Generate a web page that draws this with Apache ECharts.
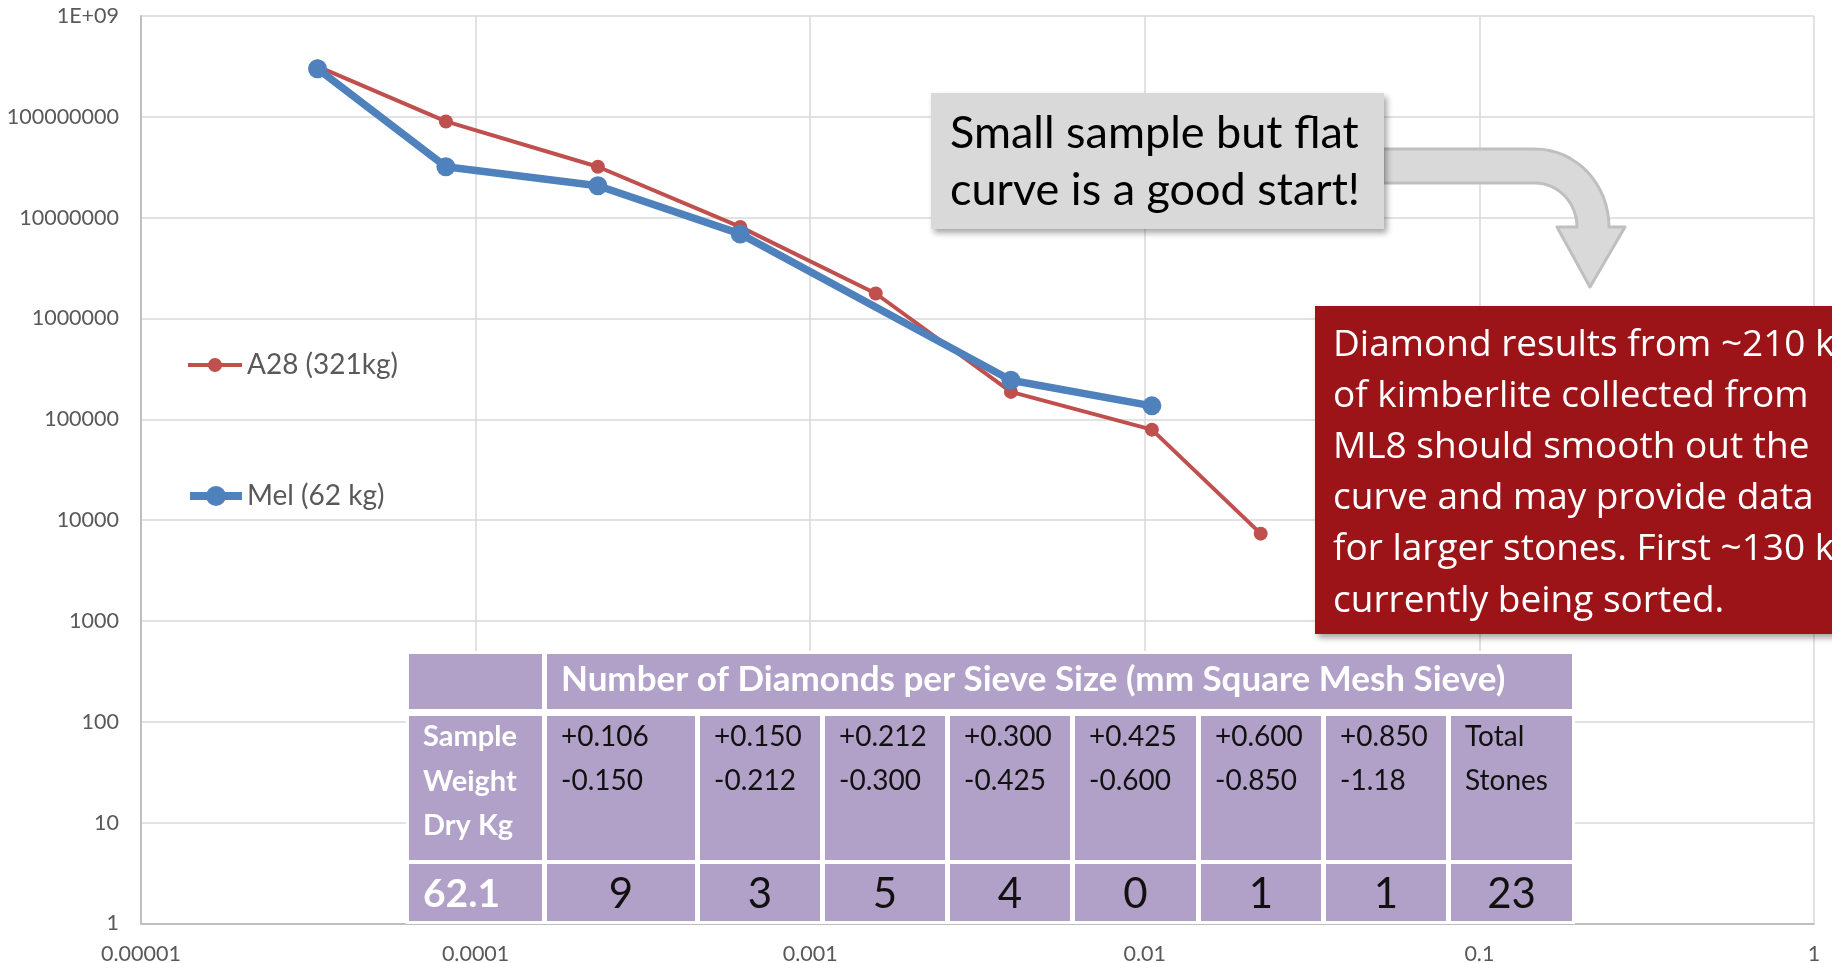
<!DOCTYPE html>
<html>
<head>
<meta charset="utf-8">
<title>Diamond size distribution</title>
<script src="https://cdn.jsdelivr.net/npm/echarts@6/dist/echarts.min.js"></script>
<style>body{margin:0;background:#fff;}</style>
</head>
<body>
<div id="main" style="width:1832px;height:963px;"></div>
<script type="text/javascript">
// values (log-log plot)
var a28X = [3.37e-5, 8.15e-5, 2.32e-4, 6.18e-4, 1.57e-3, 3.98e-3, 1.05e-2, 2.22e-2];
var a28Y = [3.16e8, 9.0e7, 3.2e7, 8.1e6, 1.77e6, 1.87e5, 7.9e4, 7.35e3];
var melX = [3.37e-5, 8.15e-5, 2.32e-4, 6.18e-4, 3.98e-3, 1.05e-2];
var melY = [3.0e8, 3.2e7, 2.07e7, 6.9e6, 2.44e5, 1.36e5];

var xTickLabels = ['0.00001', '0.0001', '0.001', '0.01', '0.1', '1'];
var yTickLabels = ['1', '10', '100', '1000', '10000', '100000', '1000000', '10000000', '100000000', '1E+09'];

// sieve table
var sieveTop = ['+0.106', '+0.150', '+0.212', '+0.300', '+0.425', '+0.600', '+0.850'];
var sieveBottom = ['-0.150', '-0.212', '-0.300', '-0.425', '-0.600', '-0.850', '-1.18'];
var sieveCounts = [9, 3, 5, 4, 0, 1, 1];
var totalStones = 23;
var sampleWeight = '62.1';

var noteText = ['Small sample but flat', 'curve is a good start!'];
var boxText = ['Diamond results from ~210 kg', 'of kimberlite collected from', 'ML8 should smooth out the',
    'curve and may provide data', 'for larger stones. First ~130 kg', 'currently being sorted.'];

function pairs(xs, ys) {
    var out = [];
    for (var i = 0; i < xs.length; i++) out.push([xs[i], ys[i]]);
    return out;
}

// points of a quarter ellipse, used for the bent arrow
function arc(cx, cy, rx, ry, a0, a1, n) {
    var pts = [];
    for (var i = 0; i <= n; i++) {
        var a = (a0 + (a1 - a0) * i / n) * Math.PI / 180;
        pts.push([cx + rx * Math.cos(a), cy + ry * Math.sin(a)]);
    }
    return pts;
}

var myChart = echarts.init(document.getElementById('main'));
var FONT = 'Lato, "Noto Sans", sans-serif';

// table graphic
var purple = '#B1A0C7';
var colEdges = [[409, 542], [547, 695], [700, 820], [825, 945], [950, 1070], [1075, 1196], [1201, 1321], [1326, 1446], [1451, 1572]];
var rowEdges = [[654, 709], [716, 860], [864, 921]];
var g = [];
g.push({type: 'rect', z: 50, shape: {x: 406, y: 651, width: 1169, height: 273}, style: {fill: '#fff'}});
g.push({type: 'rect', z: 51, shape: {x: colEdges[0][0], y: rowEdges[0][0], width: colEdges[0][1] - colEdges[0][0], height: rowEdges[0][1] - rowEdges[0][0]}, style: {fill: purple}});
g.push({type: 'rect', z: 51, shape: {x: colEdges[1][0], y: rowEdges[0][0], width: colEdges[8][1] - colEdges[1][0], height: rowEdges[0][1] - rowEdges[0][0]}, style: {fill: purple}});
g.push({type: 'text', z: 52, style: {text: 'Number of Diamonds per Sieve Size (mm Square Mesh Sieve)', x: 561, y: 680,
    font: 'bold 35px ' + FONT, fill: '#fff', verticalAlign: 'middle'}});
for (var r = 1; r < 3; r++) {
    for (var c = 0; c < 9; c++) {
        g.push({type: 'rect', z: 51, shape: {x: colEdges[c][0], y: rowEdges[r][0], width: colEdges[c][1] - colEdges[c][0], height: rowEdges[r][1] - rowEdges[r][0]}, style: {fill: purple}});
    }
}
['Sample', 'Weight', 'Dry Kg'].forEach(function (t, i) {
    g.push({type: 'text', z: 52, style: {text: t, x: 423, y: 737 + i * 44.5, font: 'bold 29px ' + FONT, fill: '#fff', verticalAlign: 'middle'}});
});
for (var k = 0; k < 7; k++) {
    var lx = colEdges[k + 1][0] + 14;
    g.push({type: 'text', z: 52, style: {text: sieveTop[k], x: lx, y: 737, font: '28px ' + FONT, fill: '#111', verticalAlign: 'middle'}});
    g.push({type: 'text', z: 52, style: {text: sieveBottom[k], x: lx, y: 781, font: '28px ' + FONT, fill: '#111', verticalAlign: 'middle'}});
    g.push({type: 'text', z: 52, style: {text: String(sieveCounts[k]), x: (colEdges[k + 1][0] + colEdges[k + 1][1]) / 2, y: 894,
        font: '42px ' + FONT, fill: '#111', align: 'center', verticalAlign: 'middle'}});
}
g.push({type: 'text', z: 52, style: {text: 'Total', x: colEdges[8][0] + 14, y: 737, font: '28px ' + FONT, fill: '#111', verticalAlign: 'middle'}});
g.push({type: 'text', z: 52, style: {text: 'Stones', x: colEdges[8][0] + 14, y: 781, font: '28px ' + FONT, fill: '#111', verticalAlign: 'middle'}});
g.push({type: 'text', z: 52, style: {text: String(totalStones), x: (colEdges[8][0] + colEdges[8][1]) / 2, y: 894,
    font: '42px ' + FONT, fill: '#111', align: 'center', verticalAlign: 'middle'}});
g.push({type: 'text', z: 52, style: {text: sampleWeight, x: 423, y: 894, font: 'bold 39px ' + FONT, fill: '#fff', verticalAlign: 'middle'}});

// gray callout + bent arrow
g.push({type: 'rect', z: 60, shape: {x: 931, y: 93, width: 453, height: 136},
    style: {fill: '#D9D9D9', shadowBlur: 6, shadowOffsetX: 3, shadowOffsetY: 4, shadowColor: 'rgba(0,0,0,0.35)'}});
noteText.forEach(function (t, i) {
    g.push({type: 'text', z: 61, style: {text: t, x: 950, y: 133 + i * 57, font: '45px ' + FONT, fill: '#000', verticalAlign: 'middle'}});
});
var arrowPts = [[1383, 149]]
    .concat(arc(1535, 227, 74, 78, -90, 0, 16))
    .concat([[1625, 227], [1590, 287], [1557, 227]])
    .concat(arc(1535, 227, 42, 44, 0, -90, 16))
    .concat([[1383, 183]]);
g.push({type: 'polygon', z: 59, shape: {points: arrowPts},
    style: {fill: '#D9D9D9', stroke: '#BFBFBF', lineWidth: 3, lineJoin: 'round'}});

// red box
g.push({type: 'rect', z: 60, shape: {x: 1315, y: 306, width: 560, height: 328},
    style: {fill: '#9C1318', shadowBlur: 6, shadowOffsetX: 3, shadowOffsetY: 4, shadowColor: 'rgba(0,0,0,0.35)'}});
boxText.forEach(function (t, i) {
    g.push({type: 'text', z: 61, style: {text: t, x: 1333, y: 345 + i * 51.2, font: '37px "Open Sans", sans-serif', fill: '#fff', verticalAlign: 'middle'}});
});

myChart.setOption({
    animation: false,
    backgroundColor: '#fff',
    grid: {left: 141, right: 18, top: 16, bottom: 39.5, containLabel: false, outerBoundsMode: 'none'},
    legend: [
        {data: ['A28 (321kg)'], left: 186, top: 351, padding: 0, itemWidth: 54, itemHeight: 17.5,
            lineStyle: {width: 4}, textStyle: {fontFamily: FONT, fontSize: 28, color: '#595959'}},
        {data: ['Mel (62 kg)'], left: 186, top: 482, padding: 0, itemWidth: 52, itemHeight: 25,
            lineStyle: {width: 8}, textStyle: {fontFamily: FONT, fontSize: 28, color: '#595959'}}
    ],
    xAxis: {
        type: 'log', logBase: 10, min: 0.00001, max: 1, splitNumber: 5,
        axisLine: {show: true, lineStyle: {color: '#BFBFBF', width: 2}},
        axisTick: {show: false},
        splitLine: {show: true, lineStyle: {color: '#D9D9D9', width: 1.5}},
        axisLabel: {
            margin: 20, color: '#595959', fontFamily: FONT, fontSize: 21.5,
            formatter: function (v) { return xTickLabels[Math.round(Math.log10(v)) + 5]; }
        }
    },
    yAxis: {
        type: 'log', logBase: 10, min: 1, max: 1e9, splitNumber: 9,
        axisLine: {show: true, lineStyle: {color: '#BFBFBF', width: 2}},
        axisTick: {show: false},
        splitLine: {show: true, lineStyle: {color: '#D9D9D9', width: 1.5}},
        axisLabel: {
            margin: 22, color: '#595959', fontFamily: FONT, fontSize: 21.5,
            formatter: function (v) { return yTickLabels[Math.round(Math.log10(v))]; }
        }
    },
    series: [
        {
            name: 'A28 (321kg)', type: 'line', data: pairs(a28X, a28Y),
            symbol: 'circle', symbolSize: 14, z: 3,
            lineStyle: {color: '#C0504D', width: 4},
            itemStyle: {color: '#C0504D'}
        },
        {
            name: 'Mel (62 kg)', type: 'line', data: pairs(melX, melY),
            symbol: 'circle', symbolSize: 19, z: 4,
            lineStyle: {color: '#4F81BD', width: 7.5},
            itemStyle: {color: '#4F81BD'}
        }
    ],
    graphic: {elements: g}
});
</script>
</body>
</html>
